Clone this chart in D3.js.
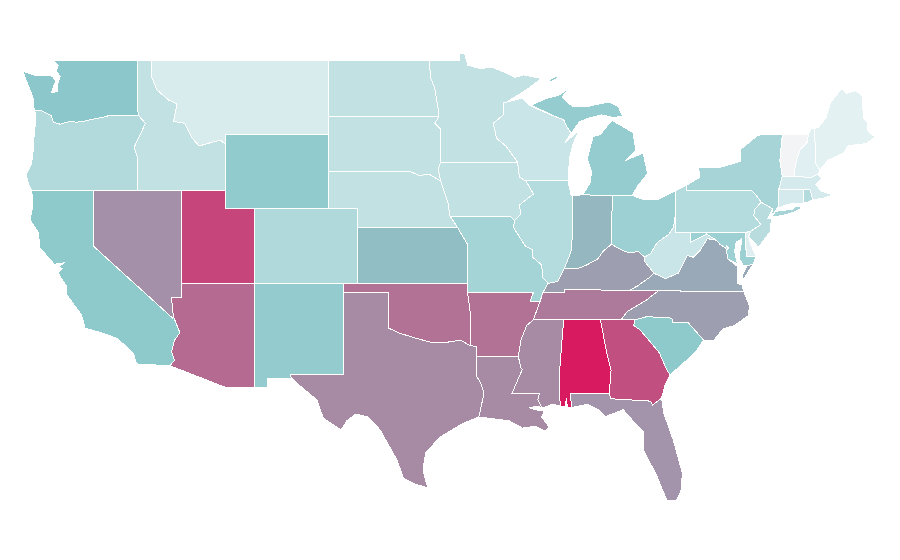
<!DOCTYPE html>
<html><head><meta charset="utf-8">
<style>html,body{margin:0;background:#fff}svg{display:block}</style>
<script src="https://cdn.jsdelivr.net/npm/d3@7/dist/d3.min.js"></script>
</head><body><svg id="map" width="900" height="560"></svg>
<script>
const stateNames=["WA","OR","CA","ID","NV","MT","WY","UT","AZ","CO","NM","ND","SD","NE","KS","OK","TX","MN","IA","MO","AR","LA","WI","IL","MI","IN","OH","KY","TN","MS","AL","GA","FL","SC","NC","VA","WV","PA","NY","NJ","DE","MD","DC","CT","RI","MA","VT","NH","ME"];
const stateValues=[50,31,49,24,66,12.5,47,88,77,32,46.5,24,24,24,53,75,68,24,24,37.5,75,68,20,30,46,55,41.5,62,72.5,68,100,85,65,49,62,59,20,30,37,28,9,42,24,14,30,14,0,8.5,7];

// State outlines as lon,lat pairs, longitude written in degrees west
const outlines={
WA:["124,46.27 124.07,46.65 124.1,47 124.35,47.5 124.7,48.2 124.73,48.38 123.9,48.17 123.1,48.17 122.8,48.13 122.55,47.9 122.85,47.25 122.45,47.3 122.4,47.75 122.25,48.1 122.5,48.4 122.4,48.7 122.76,49 117.04,49 117.04,46.42 116.92,46 119,46 119.3,45.93 120,45.82 120.6,45.72 121.2,45.65 121.5,45.72 122.25,45.55 122.7,45.65 122.8,45.85 122.85,46 123.2,46.15 123.5,46.27"],
OR:["124.21,42 117.03,42 117.03,43.8 117.24,44.3 116.85,44.95 116.7,45.2 116.48,45.6 116.92,46 119,46 119.3,45.93 120,45.82 120.6,45.72 121.2,45.65 121.5,45.72 122.25,45.55 122.7,45.65 122.8,45.85 122.85,46 123.2,46.15 123.5,46.27 124,46.27 123.95,46.2 123.95,45.5 124.05,44.7 124.1,44 124.2,43.4 124.55,42.84 124.4,42.3"],
CA:["124.21,42 120,42 120,39 114.63,35.1 114.57,35.18 114.13,34.3 114.5,33.9 114.7,33.25 114.5,32.8 114.8,32.5 117.06,32.6 117.3,33.2 118.4,34 119.43,34.29 120.57,34.56 120.8,35.27 121.8,36.36 121.8,36.8 122.4,37.55 122.1,37.8 122.4,37.85 122,38.1 122.5,38.05 122.6,37.98 123.62,38.9 123.75,39.76 124.3,40.4 124.15,41 124.1,41.5"],
ID:["117.04,49 116.05,49 116.05,48.1 115.7,47.4 114.9,46.85 114.33,46.64 114.56,45.7 113.8,45.6 113.3,44.8 112.83,44.38 111.4,44.7 111.05,44.47 111.05,42 117.03,42 117.03,43.8 117.24,44.3 116.85,44.95 116.7,45.2 116.48,45.6 116.92,46 117.04,46.42"],
NV:["120,42 114.04,42 114.04,36.2 114.7,36.2 114.57,35.18 114.63,35.1 120,39"],
MT:["116.05,49 104.05,49 104.05,45 111.05,45 111.05,44.47 111.4,44.7 112.83,44.38 113.3,44.8 113.8,45.6 114.56,45.7 114.33,46.64 114.9,46.85 115.7,47.4 116.05,48.1"],
WY:["111.05,45 104.05,45 104.05,41 111.05,41"],
UT:["114.04,42 111.05,42 111.05,41 109.05,41 109.05,37 114.04,37"],
AZ:["114.04,37 109.05,37 109.05,31.33 111.07,31.33 114.8,32.5 114.5,32.8 114.7,33.25 114.5,33.9 114.13,34.3 114.57,35.18 114.7,36.2 114.04,36.2"],
CO:["109.05,41 102.05,41 102.05,37 109.05,37"],
NM:["109.05,37 103,37 103.05,32 106.62,32 106.53,31.78 108.2,31.78 108.2,31.33 109.05,31.33"],
ND:["104.05,49 97.23,49 97.1,48 96.85,47.5 96.6,46.3 96.56,45.94 104.05,45.94"],
SD:["104.05,45.94 96.56,45.94 96.85,45.6 96.45,45.3 96.45,43.5 96.6,43.1 96.45,42.5 97.2,42.85 97.9,42.8 98.5,43 104.05,43"],
NE:["104.05,43 98.5,43 97.9,42.8 97.2,42.85 96.45,42.5 96.1,41.7 95.9,41.2 95.85,40.7 95.77,40.58 95.3,40 102.05,40 102.05,41 104.05,41"],
KS:["102.05,40 95.3,40 94.62,39.1 94.62,37 102.05,37"],
OK:["103,37 94.62,37 94.62,36.5 94.43,35.4 94.45,33.6 95.1,33.9 96.35,33.74 97.2,33.8 98.1,34 99.2,34.27 100,34.56 100,36.5 103,36.5"],
TX:["103,36.5 100,36.5 100,34.56 99.2,34.27 98.1,34 97.2,33.8 96.35,33.74 95.1,33.9 94.45,33.6 94,33.55 94.04,33.02 94.04,32 93.7,31.5 93.5,31 93.85,29.7 94.9,29.37 96.5,28.6 97.46,27.74 97.64,26.8 97.32,25.84 98.2,26.05 98.97,26.37 99.4,27.35 100.55,29 101.35,29.7 102.2,29.86 102.8,29.5 103.2,29 104.4,29.65 104.7,30.3 104.85,30.65 106.2,31.55 106.6,31.9 106.62,32 103.05,32"],
MN:["97.23,49 95.15,49 95.15,49.38 94.8,49.32 94.6,48.72 93.8,48.55 92.9,48.6 92,48.3 91.4,48.07 90.8,48.2 89.6,48 90.8,47.3 92.05,46.7 92.2,46.69 92.2,46.04 92.87,45.6 92.65,44.8 91.97,44.34 91.22,43.5 96.45,43.5 96.45,45.3 96.85,45.6 96.56,45.94 96.6,46.3 96.85,47.5 97.1,48"],
IA:["96.45,43.5 91.22,43.5 91.1,42.7 90.65,42.5 90.15,41.8 91.1,41.2 91,40.7 91.42,40.38 91.72,40.6 95.77,40.58 95.85,40.7 95.9,41.2 96.1,41.7 96.45,42.5 96.6,43.1"],
MO:["95.77,40.58 91.72,40.6 91.42,40.38 91.5,40 90.7,39 90.2,38.8 90.2,38.4 89.6,38 89.5,37.3 89.15,37 89.5,36.5 89.7,36 90.37,36 90.15,36.5 94.62,36.5 94.62,39.1 95.3,40"],
AR:["94.62,36.5 90.15,36.5 90.37,36 89.7,36 90.16,35 90.6,34.7 91,33.9 91.17,33 94.04,33.02 94,33.55 94.45,33.6 94.43,35.4"],
LA:["94.04,33.02 91.17,33 91,32.4 90.9,32.3 91.6,31 89.73,31 89.85,30.65 89.55,30.2 89.9,30.3 90.4,30.2 89.75,30.05 89.4,30.05 89.6,29.7 89.2,29.3 89.1,29.1 89.4,28.95 90,29.2 90.9,29.1 91.8,29.5 92.3,29.55 93.85,29.7 93.5,31 93.7,31.5 94.04,32"],
WI:["92.2,46.69 90.9,46.95 90.4,46.55 88.8,46 88.1,45.8 87.85,45.35 87.6,45.1 88,44.55 87.05,45.25 87.5,44.4 87.7,43.7 87.8,42.5 90.65,42.5 91.1,42.7 91.22,43.5 91.97,44.34 92.65,44.8 92.87,45.6 92.2,46.04"],
IL:["90.65,42.5 87.8,42.5 87.6,41.75 87.53,41.7 87.53,39.35 87.6,38.7 88.05,37.8 88.5,37.1 89.15,37 89.5,37.3 89.6,38 90.2,38.4 90.2,38.8 90.7,39 91.5,40 91.42,40.38 91,40.7 91.1,41.2 90.15,41.8"],
MI:["84.8,41.7 86.8,41.76 86.3,42.4 86.2,43 86.5,43.7 86.1,44.88 85.6,45 85,45.6 84.8,45.75 83.4,45.1 83.2,44.16 83.9,43.6 82.7,44 82.4,42.9 83.1,42.2 83.45,41.73","90.3,46.58 89.2,46.95 88.45,47.1 87.8,47.45 88.2,47 87.5,46.5 86.5,46.5 85,46.75 84.4,46.5 84.1,46 84.7,45.9 85.5,46.05 86.3,45.9 87,45.7 87.55,45.1 87.85,45.35 88.1,45.8 88.8,46","89.05,47.82 88.5,48.02 88.55,48.14 89,47.98"],
IN:["87.53,41.7 86.8,41.76 84.8,41.7 84.85,39.1 85.4,38.73 85.8,38.3 86.5,38 87.1,37.8 88.05,37.8 87.6,38.7 87.53,39.35"],
OH:["84.8,41.7 83.45,41.73 82.7,41.5 81.7,41.5 80.52,41.98 80.52,40.64 80.65,40 81,39.6 81.75,39.2 82.2,38.6 82.6,38.4 83,38.7 83.7,38.65 84.2,38.8 84.85,39.1"],
KY:["89.5,36.5 88.07,36.5 88.07,36.68 83.67,36.6 83.1,36.85 82.3,37.3 81.97,37.54 82.6,38.17 82.6,38.4 83,38.7 83.7,38.65 84.2,38.8 84.85,39.1 85.4,38.73 85.8,38.3 86.5,38 87.1,37.8 88.05,37.8 88.5,37.1 89.15,37"],
TN:["90.16,35 88.2,35 85.6,35 84.2,35 83.8,35.45 82.46,36.1 81.68,36.59 83.67,36.6 88.07,36.68 88.07,36.5 89.5,36.5 89.7,36"],
MS:["90.16,35 88.1,35 88.4,31.9 88.33,30.3 88.85,30.4 89.55,30.2 89.85,30.65 89.73,31 91.6,31 90.9,32.3 91,32.4 91.17,33 91,33.9 90.6,34.7"],
AL:["88.1,35 85.6,35 85.17,33.18 84.88,32.27 85,31 87.6,31 87.6,30.6 87.55,30.22 87.85,30.22 87.9,30.75 88,30.3 88.33,30.3 88.4,31.9"],
GA:["85.6,35 83.25,35 83.35,34.7 82.9,34.45 81.6,33.2 81.1,32.27 80.87,32 81.2,31.5 81.45,30.74 82.05,30.36 82.2,30.57 84.9,30.7 85,31 84.88,32.27 85.17,33.18"],
FL:["87.6,31 85,31 84.9,30.7 82.2,30.57 82.05,30.36 81.45,30.74 81.3,29.9 80.66,28.45 80.05,26.65 80.1,25.75 80.45,25.15 81.1,25.15 81.85,26.65 82.35,27.36 82.7,27.95 82.7,28.9 83.4,29.5 84.05,30.1 85.3,29.72 85.7,30.1 86.5,30.4 87.55,30.22 87.6,30.6"],
SC:["83.25,35 82.46,35.18 80.76,35.1 80.67,34.84 79.64,34.84 78.6,33.9 79.2,33.2 79.9,32.7 80.87,32 81.1,32.27 81.6,33.2 82.9,34.45 83.35,34.7"],
NC:["84.2,35 83.25,35 82.46,35.18 80.76,35.1 80.67,34.84 79.64,34.84 78.6,33.9 77.9,33.9 77.3,34.5 76.5,34.7 75.55,35.25 75.5,35.8 75.87,36.55 81.68,36.59 82.46,36.1 83.8,35.45"],
VA:["83.67,36.6 81.68,36.59 75.87,36.55 76,36.9 76.3,37 76.3,37.5 76.3,37.9 76.95,38.3 77.05,38.7 77.05,38.85 77.5,39.1 77.75,39.32 78.35,39.4 78.85,38.75 79.3,38.4 79.7,38.5 80.3,37.55 81.2,37.25 81.97,37.54 82.3,37.3 83.1,36.85","75.65,37.95 75.24,38.03 75.95,37.15 75.98,37.4"],
WV:["82.6,38.4 82.2,38.6 81.75,39.2 81,39.6 80.65,40 80.52,40.64 80.52,39.72 79.48,39.72 79.48,39.2 78.4,39.65 77.75,39.32 78.35,39.4 78.85,38.75 79.3,38.4 79.7,38.5 80.3,37.55 81.2,37.25 81.97,37.54 82.6,38.17"],
PA:["80.52,41.98 79.76,42.27 79.76,42 75.35,42 75.05,41.75 74.7,41.36 75.13,40.97 75.2,40.65 74.72,40.15 75.42,39.8 75.79,39.72 80.52,39.72"],
NY:["79.76,42 79.76,42.27 78.85,42.7 78.95,43.25 77.5,43.23 76.1,43.55 76.1,44.2 75,44.9 74.7,45 73.26,45 73.43,43.6 73.27,42.75 73.5,42.05 73.53,41.1 73.65,41 73.8,40.8 74,40.7 73.92,41 74.7,41.36 75.05,41.75 75.35,42","74,40.58 73.7,40.87 72.6,40.98 72.3,41.15 71.87,41.07 72.5,40.82 73.3,40.63"],
NJ:["75.13,40.97 74.7,41.36 73.92,41 74.1,40.7 74.25,40.5 74,40.45 74.1,39.75 74.9,38.93 75.2,39.25 75.55,39.5 75.42,39.8 74.72,40.15 75.2,40.65"],
DE:["75.79,39.72 75.42,39.8 75.55,39.5 75.4,39.1 75.05,38.45 75.7,38.46"],
MD:["79.48,39.72 75.79,39.72 75.7,38.46 75.05,38.45 75.24,38.03 75.65,37.95 75.9,37.95 76.2,38.35 76.1,38.9 76,39.4 76.4,39.2 76.5,38.7 76.3,38.05 76.95,38.3 77.05,38.7 77.05,38.85 77.5,39.1 77.75,39.32 78.4,39.65 79.48,39.2"],
DC:["77.12,38.93 77.04,39 76.91,38.89 77.04,38.79"],
CT:["73.5,42.05 71.8,42.02 71.8,41.32 72.9,41.25 73.65,41 73.53,41.1"],
RI:["71.8,42.02 71.38,42.02 71.2,41.5 71.5,41.37 71.8,41.32"],
MA:["73.27,42.75 71.3,42.7 70.85,42.87 70.6,42.65 71,42.3 70.6,41.95 70,41.8 70.2,42.07 69.95,41.7 70.6,41.55 71.13,41.5 71.2,41.5 71.38,42.02 73.5,42.05"],
VT:["73.26,45 71.5,45.01 71.55,44.6 72.05,44.2 72.3,43.6 72.45,43 72.46,42.73 73.27,42.75 73.43,43.6"],
NH:["71.5,45.01 71.3,45.3 71.08,45.3 70.98,43.4 70.7,43.08 70.85,42.87 71.3,42.7 72.46,42.73 72.45,43 72.3,43.6 72.05,44.2 71.55,44.6"],
ME:["71.08,45.3 70.8,45.4 70.3,45.9 70,46.7 69.23,47.46 68.9,47.2 68.3,47.35 67.8,47.07 67.78,45.9 67.45,45.6 67.45,45.2 66.97,44.85 67.6,44.5 68.8,44.4 69.1,44 70.2,43.6 70.7,43.08 70.98,43.4"]
};

const xScale=d3.scaleLinear().domain([-125,-65]).range([19.7,904.1]);
const yScale=d3.scaleLinear().domain([49,37,25]).range([60,283.3,503.2]);
const colorScale=d3.scaleLinear().domain([0,7,50,100]).range(["#f2f4f6","#e3f1f3","#8cc8cb","#d81b60"]);

const projection=d3.geoTransform({point(lon,lat){this.stream.point(xScale(lon),yScale(lat));}});
const path=d3.geoPath(projection);

const features=stateNames.map((name,i)=>({
  type:"Feature",
  id:name,
  properties:{value:stateValues[i]},
  geometry:{type:"MultiPolygon",coordinates:outlines[name].map(r=>{
    const ring=r.split(" ").map(p=>{const [a,b]=p.split(",").map(Number);return [-a,b];});
    ring.push(ring[0]);
    return [ring];
  })}
}));

d3.select("#map").append("g").selectAll("path").data(features).join("path")
  .attr("d",path)
  .attr("fill",d=>colorScale(d.properties.value))
  .attr("stroke","#fff")
  .attr("stroke-width",1)
  .attr("shape-rendering","crispEdges");
</script></body></html>
